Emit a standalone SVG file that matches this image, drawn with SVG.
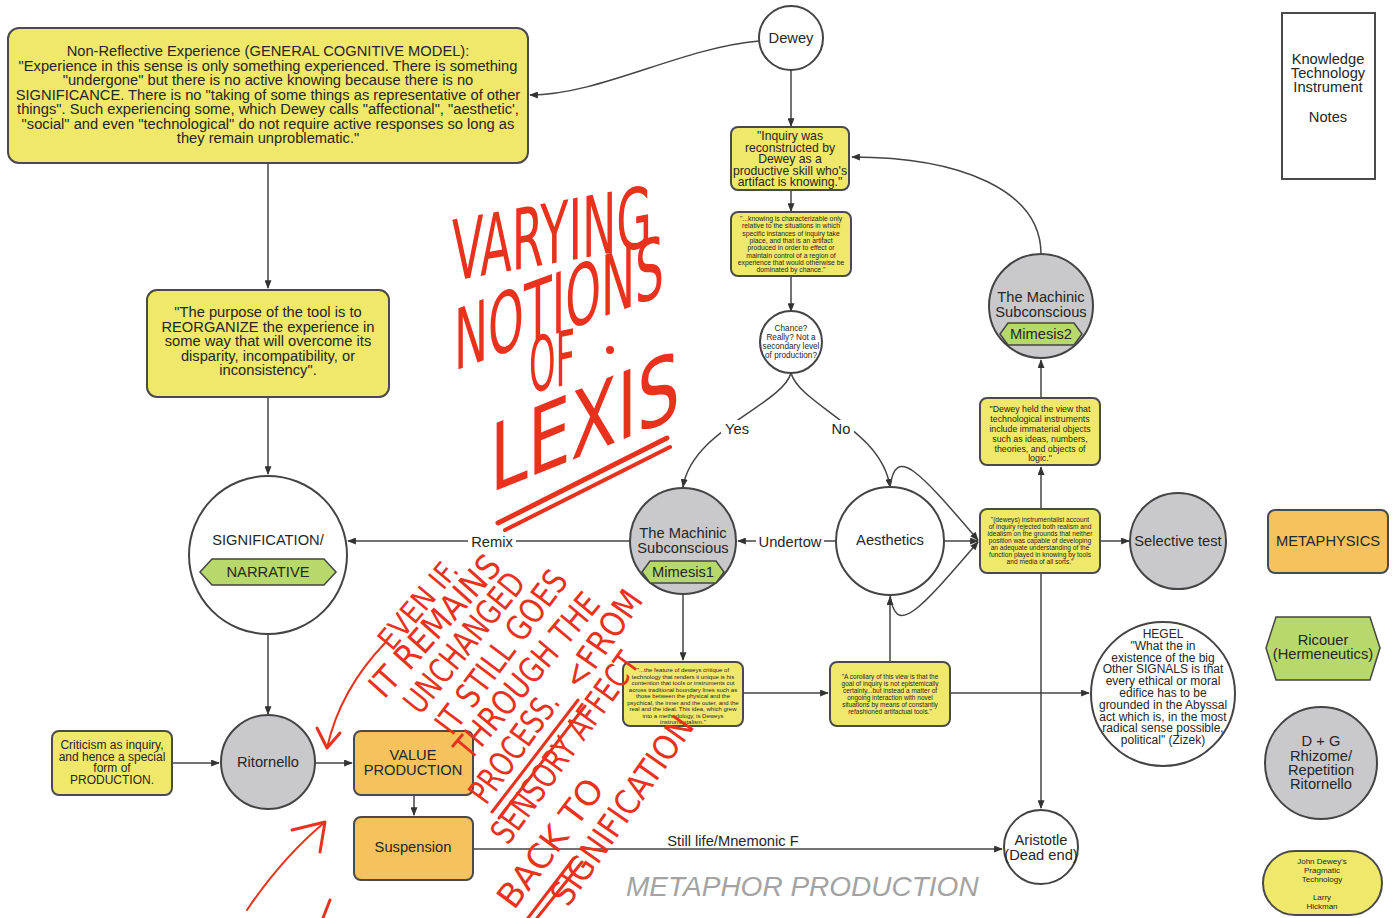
<svg xmlns="http://www.w3.org/2000/svg" width="1397" height="918" viewBox="0 0 1397 918">
<style>
  .t { font-family: "Liberation Sans", Arial, sans-serif; fill: #262626; text-anchor: middle; }
  .f14 { font-size: 14.7px; }
  .f12 { font-size: 12px; }
  .yb { fill: #f0e86a; stroke: #4a4a4a; stroke-width: 2; }
  .ob { fill: #f5c25e; stroke: #4a4a4a; stroke-width: 2; }
  .gc { fill: #c9c9cb; stroke: #444; stroke-width: 2; }
  .wc { fill: #ffffff; stroke: #444; stroke-width: 2; }
  .hx { fill: #b7d96c; stroke: #444; stroke-width: 1.5; }
  .ed { fill: none; stroke: #444; stroke-width: 1.5; }
  .lb { fill: #ffffff; stroke: none; }
  .red { fill: #e8321e; font-family: "Liberation Sans Narrow", "DejaVu Sans Condensed", sans-serif; }
  .rs { fill: none; stroke: #e8321e; stroke-width: 3; stroke-linecap: round; stroke-linejoin: round; }
</style>
<defs>
  <marker id="arr" viewBox="0 0 10 8" refX="9" refY="4" markerWidth="9" markerHeight="7" markerUnits="userSpaceOnUse" orient="auto">
    <path d="M0,0 L10,4 L0,8 z" fill="#333"/>
  </marker>
</defs>
<rect width="1397" height="918" fill="#ffffff"/>

<!-- connectors -->
<g id="connectors">
  <path class="ed" d="M759,41 C680,48 600,95 530,95" marker-end="url(#arr)"/>
  <path class="ed" d="M791,70 L791,126" marker-end="url(#arr)"/>
  <path class="ed" d="M791,190 L791,211" marker-end="url(#arr)"/>
  <path class="ed" d="M791,276 L791,311" marker-end="url(#arr)"/>
  <path class="ed" d="M791,373 C782,405 692,430 683,487" marker-end="url(#arr)"/>
  <path class="ed" d="M791,373 C800,405 882,430 890,487" marker-end="url(#arr)"/>
  <path class="ed" d="M630,541 L348,541" marker-end="url(#arr)"/>
  <path class="ed" d="M836,541 L738,541" marker-end="url(#arr)"/>
  <path class="ed" d="M944,541 L978,541" marker-end="url(#arr)"/>
  <path class="ed" d="M890,487 C896,445 918,470 978,540" marker-end="url(#arr)"/>
  <path class="ed" d="M890,595 C896,637 918,612 978,542" marker-end="url(#arr)"/>
  <path class="ed" d="M1041,509 L1041,467" marker-end="url(#arr)"/>
  <path class="ed" d="M1041,398 L1041,360" marker-end="url(#arr)"/>
  <path class="ed" d="M1041,254 C1041,190 960,157 852,157" marker-end="url(#arr)"/>
  <path class="ed" d="M1100,541 L1129,541" marker-end="url(#arr)"/>
  <path class="ed" d="M1041,573 L1041,808" marker-end="url(#arr)"/>
  <path class="ed" d="M268,163 L268,288" marker-end="url(#arr)"/>
  <path class="ed" d="M268,397 L268,474" marker-end="url(#arr)"/>
  <path class="ed" d="M268,634 L268,714" marker-end="url(#arr)"/>
  <path class="ed" d="M172,763 L219,763" marker-end="url(#arr)"/>
  <path class="ed" d="M315,763 L352,763" marker-end="url(#arr)"/>
  <path class="ed" d="M414,795 L414,815" marker-end="url(#arr)"/>
  <path class="ed" d="M473,849 L1002,849" marker-end="url(#arr)"/>
  <path class="ed" d="M683,594 L683,660" marker-end="url(#arr)"/>
  <path class="ed" d="M743,693 L828,693" marker-end="url(#arr)"/>
  <path class="ed" d="M890,662 L890,597" marker-end="url(#arr)"/>
  <path class="ed" d="M950,693 L1089,693" marker-end="url(#arr)"/>
  <!-- edge labels -->
  <rect class="lb" x="721" y="420" width="32" height="18"/>
  <text class="t f14" x="737" y="434">Yes</text>
  <rect class="lb" x="828" y="420" width="26" height="18"/>
  <text class="t f14" x="841" y="434">No</text>
  <rect class="lb" x="468" y="533" width="48" height="17"/>
  <text class="t f14" x="492" y="547">Remix</text>
  <rect class="lb" x="756" y="533" width="68" height="17"/>
  <text class="t f14" x="790" y="547">Undertow</text>
  <rect class="lb" x="665" y="833" width="136" height="15"/>
  <text class="t f14" x="733" y="846">Still life/Mnemonic F</text>
</g>

<!-- nodes -->
<g id="n-nonreflective">
  <rect class="yb" x="8" y="28" width="520" height="135" rx="11"/>
  <text class="t f14" x="268" y="56">Non-Reflective Experience (GENERAL COGNITIVE MODEL):</text>
  <text class="t f14" x="268" y="71">"Experience in this sense is only something experienced. There is something</text>
  <text class="t f14" x="268" y="85">"undergone" but there is no active knowing because there is no</text>
  <text class="t f14" x="268" y="100">SIGNIFICANCE. There is no "taking of some things as representative of other</text>
  <text class="t f14" x="268" y="114">things". Such experiencing some, which Dewey calls "affectional", "aesthetic',</text>
  <text class="t f14" x="268" y="129">"social" and even "technological" do not require active responses so long as</text>
  <text class="t f14" x="268" y="143">they remain unproblematic."</text>
</g>

<g id="n-dewey">
  <circle class="wc" cx="791" cy="38" r="32"/>
  <text class="t f14" x="791" y="43">Dewey</text>
</g>

<g id="n-inquiry">
  <rect class="yb" x="731" y="127" width="118" height="63" rx="7"/>
  <g class="t" style="font-size:12.2px">
    <text x="790" y="140">"Inquiry was</text>
    <text x="790" y="151.5">reconstructed by</text>
    <text x="790" y="163">Dewey as a</text>
    <text x="790" y="174.5">productive skill who's</text>
    <text x="790" y="186">artifact is knowing."</text>
  </g>
</g>

<g id="n-knowing">
  <rect class="yb" x="731" y="212" width="120" height="64" rx="7"/>
  <g class="t" style="font-size:6.8px">
    <text x="791" y="221">"...knowing is characterizable only</text>
    <text x="791" y="228.3">relative to the situations in which</text>
    <text x="791" y="235.6">specific instances of inquiry take</text>
    <text x="791" y="242.9">place, and that is an artifact</text>
    <text x="791" y="250.2">produced in order to effect or</text>
    <text x="791" y="257.5">maintain control of a region of</text>
    <text x="791" y="264.8">experience that would otherwise be</text>
    <text x="791" y="272.1">dominated by chance."</text>
  </g>
</g>

<g id="n-chance">
  <circle class="wc" cx="791" cy="342" r="31"/>
  <g class="t" style="font-size:8.2px">
    <text x="791" y="331">Chance?</text>
    <text x="791" y="340">Really? Not a</text>
    <text x="791" y="349">secondary level</text>
    <text x="791" y="358">of production?</text>
  </g>
</g>

<g id="n-purpose">
  <rect class="yb" x="147" y="290" width="242" height="107" rx="10"/>
  <text class="t f14" x="268" y="317">"The purpose of the tool is to</text>
  <text class="t f14" x="268" y="332">REORGANIZE the experience in</text>
  <text class="t f14" x="268" y="346">some way that will overcome its</text>
  <text class="t f14" x="268" y="361">disparity, incompatibility, or</text>
  <text class="t f14" x="268" y="375">inconsistency".</text>
</g>

<g id="n-signification">
  <circle class="wc" cx="268" cy="555" r="79"/>
  <text class="t f14" x="268" y="545">SIGNIFICATION/</text>
  <polygon class="hx" points="212,559 324,559 336,572 324,585 212,585 200,572"/>
  <text class="t f14" x="268" y="577">NARRATIVE</text>
</g>

<g id="n-machinic1">
  <circle class="gc" cx="683" cy="541" r="53"/>
  <text class="t f14" x="683" y="538">The Machinic</text>
  <text class="t f14" x="683" y="553">Subconscious</text>
  <polygon class="hx" points="650,561 716,561 724,572 716,583 650,583 642,572"/>
  <text class="t f14" x="683" y="577">Mimesis1</text>
</g>

<g id="n-aesthetics">
  <circle class="wc" cx="890" cy="541" r="54"/>
  <text class="t f14" x="890" y="545">Aesthetics</text>
</g>

<g id="n-machinic2">
  <circle class="gc" cx="1041" cy="306" r="52"/>
  <text class="t f14" x="1041" y="302">The Machinic</text>
  <text class="t f14" x="1041" y="317">Subconscious</text>
  <polygon class="hx" points="1008,323 1074,323 1082,334 1074,345 1008,345 1000,334"/>
  <text class="t f14" x="1041" y="339">Mimesis2</text>
</g>

<g id="n-deweyheld">
  <rect class="yb" x="980" y="398" width="120" height="67" rx="7"/>
  <g class="t" style="font-size:8.8px">
    <text x="1040" y="412">"Dewey held the view that</text>
    <text x="1040" y="422">technological instruments</text>
    <text x="1040" y="432">include immaterial objects</text>
    <text x="1040" y="442">such as ideas, numbers,</text>
    <text x="1040" y="452">theories, and objects of</text>
    <text x="1040" y="461">logic."</text>
  </g>
</g>

<g id="n-instrumentalist">
  <rect class="yb" x="980" y="509" width="120" height="64" rx="7"/>
  <g class="t" style="font-size:6.6px">
    <text x="1040" y="522">"(deweys) instrumentalist account</text>
    <text x="1040" y="529">of inquiry rejected both realism and</text>
    <text x="1040" y="536">idealism on the grounds that neither</text>
    <text x="1040" y="543">position was capable of developing</text>
    <text x="1040" y="550">an adequate understanding of the</text>
    <text x="1040" y="557">function played in knowing by tools</text>
    <text x="1040" y="564">and media of all sorts."</text>
  </g>
</g>

<g id="n-selective">
  <circle class="gc" cx="1178" cy="541" r="48"/>
  <text class="t f14" x="1178" y="546">Selective test</text>
</g>

<g id="n-feature">
  <rect class="yb" x="623" y="662" width="120" height="64" rx="7"/>
  <g class="t" style="font-size:6px">
    <text x="683" y="672">"...the feature of deweys critique of</text>
    <text x="683" y="678.5">technology that renders it unique is his</text>
    <text x="683" y="685">contention that tools or instruments cut</text>
    <text x="683" y="691.5">across traditional boundary lines such as</text>
    <text x="683" y="698">those between the physical and the</text>
    <text x="683" y="704.5">psychical, the inner and the outer, and the</text>
    <text x="683" y="711">real and the ideal. This idea, which grew</text>
    <text x="683" y="717.5">into a methodology, is Deweys</text>
    <text x="683" y="724">instrumentalism."</text>
  </g>
</g>

<g id="n-corollary">
  <rect class="yb" x="830" y="662" width="120" height="64" rx="7"/>
  <g class="t" style="font-size:6.5px">
    <text x="890" y="679">"A corollary of this view is that the</text>
    <text x="890" y="686">goal of inquiry is not epistemically</text>
    <text x="890" y="693">certainty...but instead a matter of</text>
    <text x="890" y="700">ongoing interaction with novel</text>
    <text x="890" y="707">situations by means of constantly</text>
    <text x="890" y="714">refashioned artifactual tools."</text>
  </g>
</g>

<g id="n-hegel">
  <circle class="wc" cx="1163" cy="694" r="72"/>
  <g class="t f12">
    <text x="1163" y="638">HEGEL</text>
    <text x="1163" y="649.8">"What the in</text>
    <text x="1163" y="661.6">existence of the big</text>
    <text x="1163" y="673.4">Other SIGNALS is that</text>
    <text x="1163" y="685.2">every ethical or moral</text>
    <text x="1163" y="697">edifice has to be</text>
    <text x="1163" y="708.8">grounded in the Abyssal</text>
    <text x="1163" y="720.6">act which is, in the most</text>
    <text x="1163" y="732.4">radical sense possible,</text>
    <text x="1163" y="744.2">political" (Zizek)</text>
  </g>
</g>

<g id="n-ritornello">
  <circle class="gc" cx="268" cy="762" r="47"/>
  <text class="t f14" x="268" y="767">Ritornello</text>
</g>

<g id="n-criticism">
  <rect class="yb" x="52" y="731" width="120" height="64" rx="7"/>
  <g class="t f12">
    <text x="112" y="749">Criticism as inquiry,</text>
    <text x="112" y="760.5">and hence a special</text>
    <text x="112" y="772">form of</text>
    <text x="112" y="783.5">PRODUCTION.</text>
  </g>
</g>

<g id="n-value">
  <rect class="ob" x="354" y="731" width="119" height="64" rx="7"/>
  <text class="t f14" x="413" y="760">VALUE</text>
  <text class="t f14" x="413" y="775">PRODUCTION</text>
</g>

<g id="n-suspension">
  <rect class="ob" x="354" y="817" width="119" height="63" rx="7"/>
  <text class="t f14" x="413" y="852">Suspension</text>
</g>

<g id="n-aristotle">
  <circle class="wc" cx="1041" cy="847" r="37"/>
  <text class="t f14" x="1041" y="845">Aristotle</text>
  <text class="t f14" x="1041" y="860">(Dead end)</text>
</g>

<g id="n-notes">
  <rect x="1282" y="13" width="93" height="166" fill="#ffffff" stroke="#4a4a4a" stroke-width="2"/>
  <text class="t f14" x="1328" y="64">Knowledge</text>
  <text class="t f14" x="1328" y="78">Technology</text>
  <text class="t f14" x="1328" y="92">Instrument</text>
  <text class="t f14" x="1328" y="122">Notes</text>
</g>

<g id="n-metaphysics">
  <rect class="ob" x="1268" y="510" width="120" height="63" rx="7"/>
  <text class="t f14" x="1328" y="546">METAPHYSICS</text>
</g>

<g id="n-ricouer">
  <polygon class="hx" points="1276,617 1370,617 1380,648 1370,680 1276,680 1266,648"/>
  <text class="t f14" x="1323" y="645">Ricouer</text>
  <text class="t f14" x="1323" y="659">(Hermeneutics)</text>
</g>

<g id="n-dg">
  <circle class="gc" cx="1321" cy="763" r="56"/>
  <text class="t f14" x="1321" y="746">D + G</text>
  <text class="t f14" x="1321" y="761">Rhizome/</text>
  <text class="t f14" x="1321" y="775">Repetition</text>
  <text class="t f14" x="1321" y="789">Ritornello</text>
</g>

<g id="n-hickman">
  <rect class="yb" x="1263" y="851" width="119" height="64" rx="32"/>
  <g class="t" style="font-size:8px">
    <text x="1322" y="864">John Dewey's</text>
    <text x="1322" y="873">Pragmatic</text>
    <text x="1322" y="882">Technology</text>
    <text x="1322" y="900">Larry</text>
    <text x="1322" y="909">Hickman</text>
  </g>
</g>

<text id="metaphor" x="626" y="896" style="font-family:'Liberation Sans',Arial,sans-serif;font-style:italic;font-size:28px;fill:#a3a3a3">METAPHOR PRODUCTION</text>

<!-- red marker notes: upright letters on rising baselines -->
<g id="annotation-lexis">
  <text class="red" transform="translate(452,281) skewY(-10) scale(1,1.45)" style="font-size:58px" textLength="200" lengthAdjust="spacingAndGlyphs">VARYING</text>
  <text class="red" transform="translate(454,371) skewY(-20) scale(1,1.5)" style="font-size:56px" textLength="210" lengthAdjust="spacingAndGlyphs">NOTIONS</text>
  <text class="red" transform="translate(529,393) skewY(-12) scale(1,1.9)" style="font-size:40px" textLength="46" lengthAdjust="spacingAndGlyphs">OF</text>
  <text class="red" transform="translate(490,493) skewY(-22) scale(1,1.6)" style="font-size:58px" textLength="190" lengthAdjust="spacingAndGlyphs">LEXIS</text>
  <circle cx="610" cy="350" r="4" fill="#e8321e"/>
  <path class="rs" style="stroke-width:5" d="M498,523 L667,438"/>
  <path class="rs" style="stroke-width:4" d="M505,530 L670,447"/>
</g>

<g id="annotation-process">
  <text class="red" transform="translate(392,652) rotate(-50)" style="font-size:30px" textLength="106" lengthAdjust="spacingAndGlyphs">EVEN IF.</text>
  <text class="red" transform="translate(384,700) rotate(-48)" style="font-size:34px" textLength="178" lengthAdjust="spacingAndGlyphs">IT REMAINS</text>
  <text class="red" transform="translate(420,716) rotate(-51)" style="font-size:34px" textLength="170" lengthAdjust="spacingAndGlyphs">UNCHANGED</text>
  <text class="red" transform="translate(452,737) rotate(-53)" style="font-size:34px" textLength="195" lengthAdjust="spacingAndGlyphs">IT STILL GOES</text>
  <text class="red" transform="translate(470,762) rotate(-50)" style="font-size:34px" textLength="205" lengthAdjust="spacingAndGlyphs">THROUGH THE</text>
  <text class="red" transform="translate(486,806) rotate(-54)" style="font-size:34px" textLength="128" lengthAdjust="spacingAndGlyphs">PROCESS.</text>
  <text class="red" transform="translate(580,692) rotate(-55)" style="font-size:34px" textLength="112" lengthAdjust="spacingAndGlyphs">&lt;FROM</text>
  <text class="red" transform="translate(508,846) rotate(-54)" style="font-size:34px" textLength="226" lengthAdjust="spacingAndGlyphs">SENSORY AFFECT</text>
  <text class="red" transform="translate(514,911) rotate(-53)" style="font-size:34px" textLength="152" lengthAdjust="spacingAndGlyphs">BACK TO</text>
  <text class="red" transform="translate(568,908) rotate(-55)" style="font-size:34px" textLength="222" lengthAdjust="spacingAndGlyphs">SIGNIFICATION</text>
  <path class="rs" d="M492,812 L578,700"/>
  <path class="rs" d="M499,818 L585,706"/>
  <path class="rs" d="M528,918 L574,858"/>
  <path class="rs" d="M537,918 L582,862"/>
  <path class="rs" style="stroke-width:2" d="M385,643 Q340,690 327,748"/>
  <path class="rs" d="M317,728 L327,748 L340,733"/>
  <path class="rs" style="stroke-width:2" d="M247,910 Q282,858 325,822"/>
  <path class="rs" d="M292,830 L325,822 L320,852"/>
  <path class="rs" d="M330,900 L323,918"/>
</g>
</svg>
